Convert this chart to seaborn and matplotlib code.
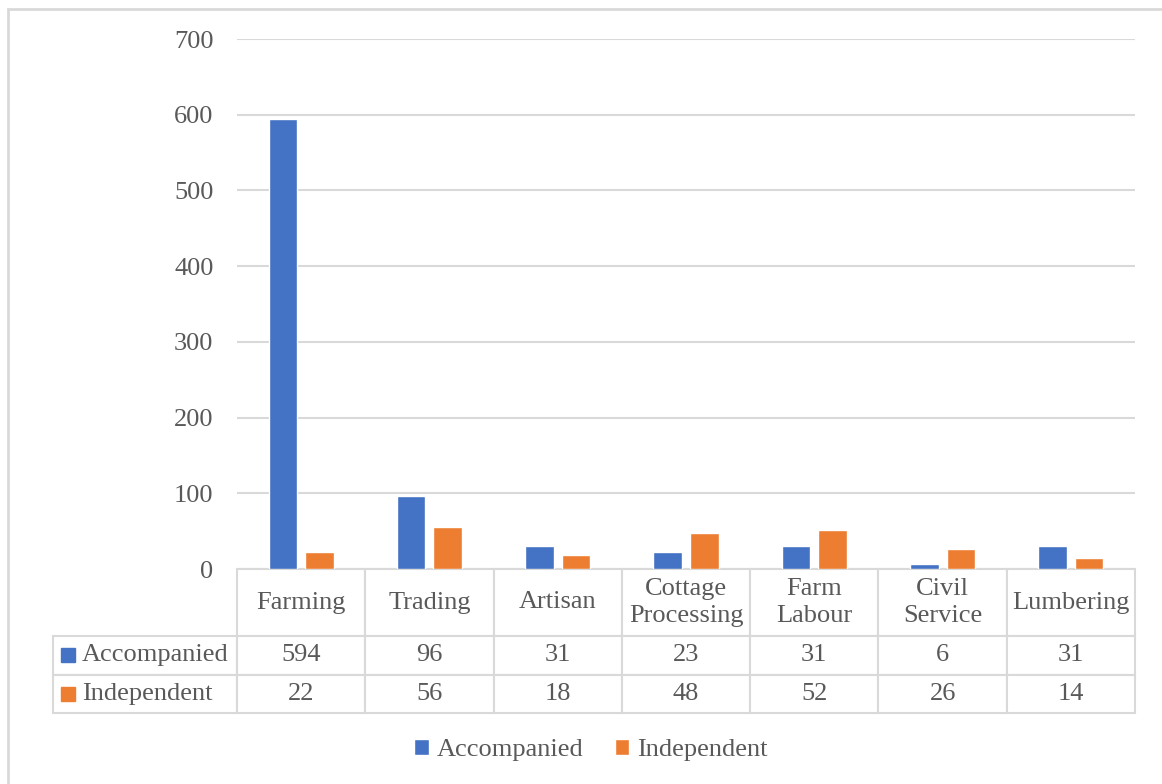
import pandas as pd
import numpy as np
import matplotlib.pyplot as plt
import seaborn as sns
from matplotlib.patches import Rectangle

occupations = ['Farming', 'Trading', 'Artisan', 'Cottage Processing',
               'Farm Labour', 'Civil Service', 'Lumbering']
header_labels = ['Farming', 'Trading', 'Artisan', 'Cottage\nProcessing',
                 'Farm\nLabour', 'Civil\nService', 'Lumbering']
series_names = ['Accompanied', 'Independent']
accompanied = [594, 96, 31, 23, 31, 6, 31]
independent = [22, 56, 18, 48, 52, 26, 14]
y_ticks = [0, 100, 200, 300, 400, 500, 600, 700]

colors = ['#4472C4', '#ED7D31']
text_gray = '#595959'
line_gray = '#d9d9d9'
fs = 19

df = pd.DataFrame({
    'occupation': occupations * 2,
    'count': accompanied + independent,
    'type': [series_names[0]] * len(occupations) + [series_names[1]] * len(occupations),
})

sns.set_style("white")
plt.rcParams['font.family'] = ['Liberation Serif', 'DejaVu Serif']

W, H = 1162, 784
fig = plt.figure(figsize=(W / 100, H / 100), dpi=100)

# plot area in pixels: x 237..1135, y 39..569
ax = fig.add_axes([237 / W, 1 - 569 / H, (1135 - 237) / W, (569 - 39) / H])

sns.barplot(data=df, x='occupation', y='count', hue='type', palette=colors,
            saturation=1, width=0.57, gap=0.22, ax=ax, legend=True)

ax.set_ylim(0, 700)
ax.set_xlim(-0.5, len(occupations) - 0.5)
ax.set_yticks(y_ticks)
ax.set_xticks([])
ax.set_xlabel('')
ax.set_ylabel('')
ax.tick_params(axis='y', length=0, pad=17, labelcolor=text_gray, labelsize=fs)
ax.yaxis.grid(True, color=line_gray, lw=1.5)
ax.set_axisbelow(True)
for s in ax.spines.values():
    s.set_visible(False)

# legend at the bottom of the figure
handles, labels = ax.get_legend_handles_labels()
ax.get_legend().remove()
fig.legend(handles, labels, loc='center', bbox_to_anchor=(591 / W, 1 - 750 / H),
           ncol=2, frameon=False, fontsize=fs, handlelength=0.55, handleheight=0.55,
           handletextpad=0.3, columnspacing=1.2, labelcolor=text_gray)

# data table under the plot
cell_text = [[''] + header_labels,
             [series_names[0]] + [str(v) for v in accompanied],
             [series_names[1]] + [str(v) for v in independent]]
ax_h = 569 - 39
ax_w = 1135 - 237
tbl = ax.table(cellText=cell_text, cellLoc='center',
               bbox=[(53 - 237) / ax_w, -(713 - 569) / ax_h, (1135 - 53) / ax_w, (713 - 569) / ax_h])
tbl.auto_set_font_size(False)
tbl.set_fontsize(fs)
for (r, c), cell in tbl.get_celld().items():
    cell.set_width(184 if c == 0 else ax_w / 7)
    cell.set_height(67 if r == 0 else 38.5)
    cell.set_edgecolor(line_gray)
    cell.set_linewidth(1.5)
    cell.get_text().set_color(text_gray)
    if r == 0:
        cell.get_text().set_linespacing(1.3)
    if r == 0 and c == 0:
        cell.visible_edges = ''
    if c == 0 and r > 0:
        cell._loc = 'left'
        cell.get_text().set_horizontalalignment('left')
        cell.PAD = 29 / 184

# colour swatches in the row-label cells
for i, col in enumerate(colors):
    y_px = 655 + i * 38.5
    ax.plot([(68 - 237) / ax_w], [-(y_px - 569) / ax_h], marker='s', markersize=9.5,
            color=col, transform=ax.transAxes, clip_on=False, linestyle='none')

# outer chart border
fig.patches.append(Rectangle((8 / W, -0.05), 1.1, 1.05 - 9 / H, transform=fig.transFigure,
                             fill=False, edgecolor=line_gray, lw=2))

fig.savefig('out.png', dpi=100)
